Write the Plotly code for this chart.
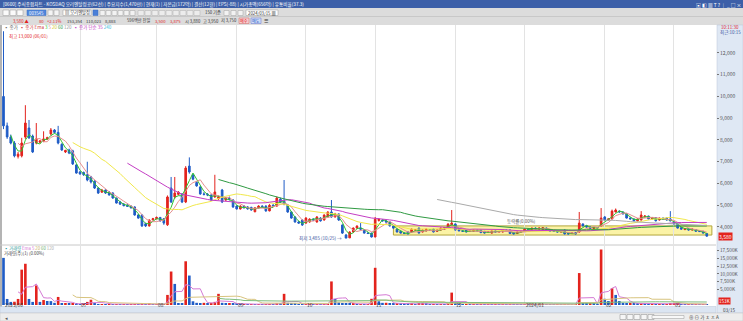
import plotly.graph_objects as go
import pandas as pd

W, H = 743, 321

# ---------------- data ----------------
month_labels = ["2023/06", "07", "08", "09", "10", "11", "12", "2024/01", "02", "03"]
month_start_idx = [0, 21, 42, 64, 83, 102, 124, 143, 165, 184]

opens = [
    10000, 8650, 8140, 7860, 7250, 7270, 8140, 8550, 8180, 7860,
    7900, 7950, 8050, 8280, 8460, 8350, 7800, 7450, 7540, 7500,
    6850, 6530, 6500, 6400, 6300, 6100, 5790, 5600, 5700, 5600,
    5560, 5330, 5150, 5050, 5000, 4950, 4920, 4550, 4550, 4150,
    4050, 4330, 4380, 4440, 4380, 4100, 5790, 5380, 5500, 5520,
    5150, 6800, 6400, 6050, 5840, 5520, 5500, 5470, 5380, 5300,
    5700, 5240, 5330, 5240, 4960, 4830, 4960, 4920, 4900, 4700,
    4880, 4960, 4960, 4740, 5000, 4960, 5280, 5200, 5000, 4690,
    4460, 4230, 4320, 4180, 4230, 4360, 4230, 4410, 4320, 4460,
    4690, 4460, 4600, 4090, 3630, 3500, 3770, 3950, 3950, 3860,
    3720, 3720, 3540, 4300, 4320, 4280, 4230, 4050, 3900, 3800,
    3720, 3770, 3770, 3860, 3950, 3770, 3820, 3860, 3900, 3800,
    3860, 3900, 4000, 4100, 4140, 3900, 3820, 3860, 3800, 3800,
    3860, 3860, 3800, 3770, 3720, 3820, 3770, 3770, 3860, 3860,
    3740, 3700, 3770, 3800, 3900, 3860, 3950, 3900, 3880, 3950,
    3880, 3820, 3820, 3770, 3860, 3720, 3700, 3740, 3770, 4140,
    4050, 4000, 3920, 3970, 4050, 4460, 4320, 4370, 4690, 4730,
    4690, 4600, 4410, 4370, 4280, 4320, 4460, 4500, 4370, 4430,
    4320, 4410, 4410, 4370, 4230, 4140, 3970, 3880, 3920, 3860,
    3880, 3800, 3800, 3700,
]
highs = [
    13000, 8800, 8250, 7950, 7450, 8100, 9600, 8920, 8250, 8780,
    8000, 8400, 8150, 8550, 8500, 8650, 7850, 7550, 7600, 7550,
    6900, 6580, 6550, 7000, 6350, 6150, 5820, 5750, 5730, 5650,
    5600, 5350, 5200, 5100, 5050, 5000, 4950, 4600, 4580, 4200,
    4350, 4420, 4480, 4460, 4400, 5450, 6300, 6300, 5650, 5550,
    6800, 7200, 6450, 6100, 5880, 5600, 5560, 5500, 6400, 5450,
    5750, 5380, 5400, 5280, 5000, 5000, 5000, 4960, 4930, 4900,
    5000, 5000, 5000, 5050, 5050, 5400, 5350, 6160, 5050, 4720,
    4500, 4280, 4350, 4450, 4400, 4400, 4500, 4450, 4580, 4720,
    5240, 4650, 4620, 4120, 3680, 3800, 3980, 4080, 4180, 3880,
    3760, 3740, 4460, 4400, 4350, 4300, 4250, 4080, 3920, 3820,
    3750, 3790, 3920, 3900, 3970, 3880, 3920, 3900, 3920, 3880,
    3970, 3990, 4160, 4780, 4160, 3920, 3850, 3880, 3830, 3880,
    3880, 3880, 3820, 3800, 3840, 3840, 3810, 3880, 3880, 3880,
    3760, 3790, 3820, 3920, 3930, 3970, 3980, 3970, 3990, 3970,
    3900, 3840, 3840, 3810, 3880, 3740, 3740, 3760, 4690, 4160,
    4080, 4020, 3990, 4000, 4870, 4500, 4400, 4800, 4850, 4760,
    4700, 4620, 4450, 4390, 4400, 4730, 4550, 4520, 4450, 4450,
    4430, 4430, 4430, 4730, 4250, 4160, 3990, 3950, 3940, 3920,
    3900, 3830, 3820, 3720,
]
lows = [
    8500, 8050, 7800, 7200, 7150, 7200, 8050, 8050, 7400, 7800,
    7850, 7900, 8000, 8200, 8300, 7800, 7500, 7400, 7350, 6850,
    6450, 6400, 6350, 6100, 6000, 5750, 5520, 5580, 5520, 5450,
    5300, 5080, 5020, 4950, 4920, 4850, 4520, 4380, 4000, 4000,
    4020, 4300, 4350, 4250, 4100, 4050, 5100, 5300, 5450, 5100,
    5100, 6450, 6150, 5850, 5480, 5450, 5420, 5200, 5350, 5250,
    5100, 5200, 5220, 4880, 4800, 4800, 4850, 4800, 4750, 4680,
    4850, 4880, 4700, 4720, 4920, 4940, 5100, 5000, 4650, 4380,
    4200, 4150, 4050, 4150, 4200, 4300, 4200, 4250, 4300, 4440,
    4430, 4440, 4280, 3680, 3485, 3490, 3750, 3920, 3880, 3700,
    3680, 3520, 3530, 4250, 4250, 4200, 4020, 3920, 3750, 3700,
    3680, 3660, 3750, 3840, 3700, 3750, 3800, 3830, 3750, 3780,
    3840, 3880, 3980, 4080, 3840, 3800, 3780, 3750, 3770, 3780,
    3800, 3720, 3700, 3740, 3700, 3750, 3750, 3750, 3800, 3680,
    3660, 3680, 3750, 3780, 3860, 3840, 3880, 3880, 3860, 3860,
    3780, 3780, 3750, 3750, 3660, 3660, 3680, 3660, 3750, 4030,
    3980, 3900, 3900, 3930, 4030, 4300, 4300, 4350, 4670, 4670,
    4580, 4390, 4350, 4260, 4260, 4300, 4440, 4350, 4350, 4260,
    4300, 4350, 4300, 4260, 4120, 3930, 3880, 3860, 3840, 3840,
    3780, 3770, 3700, 3560,
]
closes = [
    8650, 8140, 7860, 7270, 7350, 7860, 8780, 8100, 7450, 8050,
    7950, 8050, 8100, 8460, 8350, 7860, 7540, 7520, 7400, 6900,
    6480, 6440, 6400, 6160, 6070, 5790, 5560, 5700, 5560, 5470,
    5330, 5100, 5050, 4980, 4950, 4880, 4550, 4410, 4050, 4050,
    4320, 4380, 4440, 4280, 4180, 5380, 5150, 5560, 5600, 5150,
    6710, 6530, 6200, 5890, 5520, 5500, 5470, 5240, 5610, 5380,
    5150, 5330, 5280, 4920, 4830, 4960, 4880, 4830, 4780, 4880,
    4960, 4900, 4740, 5000, 4960, 5330, 5150, 5050, 4690, 4410,
    4230, 4180, 4090, 4410, 4360, 4320, 4460, 4280, 4550, 4690,
    4460, 4600, 4320, 3720, 3490, 3770, 3950, 4040, 3900, 3720,
    3700, 3540, 4360, 4360, 4280, 4230, 4050, 3950, 3770, 3720,
    3700, 3680, 3900, 3880, 3720, 3860, 3900, 3860, 3770, 3860,
    3950, 3970, 4140, 4180, 3860, 3820, 3800, 3770, 3800, 3860,
    3820, 3740, 3720, 3770, 3820, 3770, 3790, 3860, 3820, 3700,
    3680, 3770, 3800, 3900, 3880, 3950, 3900, 3950, 3970, 3880,
    3800, 3800, 3770, 3790, 3680, 3680, 3720, 3680, 4180, 4050,
    4000, 3920, 3970, 3950, 4410, 4320, 4370, 4730, 4780, 4690,
    4600, 4410, 4370, 4280, 4370, 4550, 4500, 4370, 4430, 4280,
    4410, 4370, 4320, 4280, 4140, 3950, 3900, 3930, 3860, 3900,
    3800, 3790, 3720, 3580,
]
volumes_k = [
    15200, 1950, 1000, 1050, 1950, 11400, 13300, 1950, 1000, 6300,
    1000, 1600, 1300, 1250, 700, 2600, 400, 420, 380, 400,
    350, 300, 350, 1000, 1700, 600, 300, 320, 280, 300,
    290, 310, 250, 260, 240, 250, 300, 250, 400, 300,
    400, 250, 260, 240, 300, 3250, 10800, 6800, 600, 550,
    14100, 9500, 1200, 700, 600, 700, 600, 700, 1000, 3600,
    700, 400, 420, 400, 350, 300, 320, 250, 260, 250,
    270, 250, 260, 300, 280, 600, 400, 3600, 700, 500,
    400, 300, 280, 300, 310, 250, 260, 250, 300, 320,
    7600, 1950, 800, 600, 500, 400, 420, 300, 320, 300,
    310, 2000, 12000, 1200, 700, 720, 500, 450, 460, 400,
    400, 350, 360, 300, 350, 700, 350, 300, 310, 300,
    310, 300, 500, 4000, 500, 350, 300, 310, 250, 260,
    250, 300, 250, 260, 250, 260, 200, 250, 200, 300,
    300, 250, 200, 300, 250, 300, 250, 260, 300, 250,
    250, 200, 210, 200, 300, 250, 200, 250, 10300, 500,
    400, 410, 350, 300, 17900, 2000, 1300, 5400, 3250, 1300,
    700, 500, 700, 400, 350, 600, 350, 300, 310, 300,
    310, 250, 260, 350, 400, 500, 300, 250, 260, 250,
    300, 250, 300, 153,
]
price_ticks = [4000, 5000, 6000, 7000, 8000, 9000, 10000, 11000, 12000]
volume_ticks = [5000, 7500, 10000, 12500, 15000, 17500]
price_ma_periods = [3, 5, 20, 35, 60, 120]
volume_ma_periods = [5, 20, 60]
# drawn range box (start idx, end idx, low, high)
box_start, box_end, box_low, box_high = 107, 194.4, 3630, 4050
low_idx, low_price, low_date = 94, 3485, "10/25"
high_idx, high_price, high_date = 0, 13000, "06/01"

# ---------------- styling ----------------
RED = "#e3231d"
BLUE = "#1f5cc6"
FONT = "Noto Sans CJK KR"
price_ma_colors = ["#2fc42f", "#e68f8f", "#f1e84a", "#c43ec4", "#2f9a42", "#aaaaaa"]
volume_ma_colors = ["#d57ad5", "#d8c47e", "#7cbc7c"]

n = len(closes)
idx = list(range(n))


def px(x):
    return x / W


def py(y):
    return 1 - y / H


XL, XR = 2, 716
XRANGE = [-0.41, 195.53]

fig = go.Figure()

# moving averages (price)
cs = pd.Series(closes, dtype=float)
for p, c in zip(price_ma_periods, price_ma_colors):
    ma = cs.rolling(p).mean()
    fig.add_trace(go.Scatter(x=idx, y=ma, mode="lines", line=dict(color=c, width=1),
                             xaxis="x", yaxis="y", hoverinfo="skip", showlegend=False))

fig.add_trace(go.Candlestick(
    x=idx, open=opens, high=highs, low=lows, close=closes,
    increasing=dict(line=dict(color=RED, width=1), fillcolor=RED),
    decreasing=dict(line=dict(color=BLUE, width=1), fillcolor=BLUE),
    whiskerwidth=0, xaxis="x", yaxis="y", hoverinfo="skip", showlegend=False))

# volume
vol_colors = [BLUE if i == 0 or volumes_k[i] <= volumes_k[i - 1] else RED for i in idx]
fig.add_trace(go.Bar(x=idx, y=volumes_k, marker=dict(color=vol_colors, line=dict(width=0)),
                     width=0.72, xaxis="x2", yaxis="y2", hoverinfo="skip", showlegend=False))
vs = pd.Series(volumes_k, dtype=float)
for p, c in zip(volume_ma_periods, volume_ma_colors):
    ma = vs.rolling(p).mean()
    fig.add_trace(go.Scatter(x=idx, y=ma, mode="lines", line=dict(color=c, width=1),
                             xaxis="x2", yaxis="y2", hoverinfo="skip", showlegend=False))

shapes = []
ann = []


def rect(x0, y0, x1, y1, fill, line=None, lw=0, layer="below"):
    shapes.append(dict(type="rect", xref="paper", yref="paper", x0=px(x0), x1=px(x1),
                       y0=py(y1), y1=py(y0), fillcolor=fill,
                       line=dict(color=line or fill, width=lw), layer=layer))


def hline(x0, x1, y, color, w=1, layer="below"):
    shapes.append(dict(type="line", xref="paper", yref="paper", x0=px(x0), x1=px(x1),
                       y0=py(y), y1=py(y), line=dict(color=color, width=w), layer=layer))


def text(x, y, s, size=5.5, color="#333", anchor="left", bg=None, yanchor="middle"):
    d = dict(x=px(x), y=py(y), xref="paper", yref="paper", text=s, showarrow=False,
             xanchor=anchor, yanchor=yanchor, font=dict(size=size, color=color, family=FONT),
             borderpad=0)
    if bg:
        d["bgcolor"] = bg
    ann.append(d)


# ---- window chrome ----
rect(0, 0, 743, 8, "#3c5fa8")
rect(0, 8, 743, 25, "#dcdcdc")
hline(0, 743, 16.5, "#c8c8c8")
text(2, 4, "[0600] 주식종합차트 - KOSDAQ 오리엔탈정공(62선) | 주요지수(1,470만) | 현재(1) | 자본금(172억) | 결산(12월) | EPS(-88) | 시가총액(656억) | 유통비율(37.3)",
     size=4.6, color="white")
text(742, 4, "▣ ◧ ▦ T ? │ _ □ ×", size=4.8, color="white", anchor="right")

# toolbar row
for x0 in (3, 10, 17):
    rect(x0, 10, x0 + 6, 15.5, "#fafafa", "#9a9a9a", 0.5)
rect(27, 10, 46, 15.5, "#4f86dc", "#3a6cc0", 0.5)
text(36.5, 12.8, "003545", size=4.3, color="white", anchor="center")
for x0 in (48, 54):
    rect(x0, 10, x0 + 5, 15.5, "#f4f4f4", "#9a9a9a", 0.5)
rect(63, 10, 91, 15.5, "#ffffff", "#9a9a9a", 0.5)
text(64, 12.8, "▤ 오리엔탈정", size=4.3, color="#333")
rect(93, 10, 98, 15.5, "#4a7fd8", "#3a6cc0", 0.5)
for x0 in range(100, 136, 6):
    rect(x0, 10.5, x0 + 5, 15.5, "#f2f2f2", "#a0a0a0", 0.5)
for x0 in range(138, 200, 7):
    rect(x0, 10.5, x0 + 6, 15.5, "#ececec", "#b0b0b0", 0.5)
text(204, 12.8, "150 기준", size=4.3, color="#333")
for x0 in (224, 231, 238):
    rect(x0, 10.5, x0 + 5, 15.5, "#f2f2f2", "#a0a0a0", 0.5)
rect(246, 10, 278, 15.5, "#ffffff", "#9a9a9a", 0.5)
text(247, 12.8, "2024/03/15 ▦", size=4.3, color="#333")

# info row
IY = 20.6
IS = 4.2
text(12, IY, "3,580 ▲", size=IS, color=RED)
text(38, IY, "80", size=IS, color=RED)
text(46, IY, "+2.11%", size=IS, color=RED)
text(66, IY, "153,354", size=IS, color="#333")
text(85, IY, "110,023", size=IS, color="#333")
text(104, IY, "8,888", size=IS, color="#333")
text(126, IY, "596백만 전일", size=IS, color="#333")
text(154, IY, "3,500", size=IS, color=RED)
text(169, IY, "3,875", size=IS, color=RED)
text(184, IY, "시 3,880", size=IS, color="#333")
text(202, IY, "고 3,950", size=IS, color="#333")
text(220, IY, "저 3,750", size=IS, color="#333")
rect(239, 18, 249, 23.5, "#f6d0d0", "#d06060", 0.5)
text(244, IY, "매수", size=4.1, color=RED, anchor="center")
rect(251, 18, 261, 23.5, "#d0dcf6", "#6070d0", 0.5)
text(256, IY, "매도", size=4.1, color=BLUE, anchor="center")
text(263, IY, "☰", size=4.6, color="#333")

# chart frame pieces
rect(717, 25, 743, 313, "#dfe8f4", "#b9c6d8", 0.5)
rect(0, 25, 2, 321, "#b4b4b4")
hline(0, 716, 245, "#c8c8c8")
rect(0, 306.5, 716, 313, "#dbe5f2", "#b9c6d8", 0.5)
rect(0, 313, 743, 321, "#ededed", "#c0c0c0", 0.5)
text(4, 317, "◂", size=5, color="#555")
for x0 in range(620, 650, 7):
    rect(x0, 314.5, x0 + 6, 319.5, "#f6f6f6", "#888", 0.5)
rect(652, 315.5, 684, 318.5, "#f8f8f8", "#999", 0.5)
text(688, 317, "⊕ ⊖ 가 ㅊ ㅈ A", size=4.6, color="#444")
text(729, 309.5, "03/15", size=4.6, color="#444", anchor="center")

# range box drawing
shapes.append(dict(type="rect", xref="x", yref="y", x0=box_start, x1=box_end, y0=box_low, y1=box_high,
                   fillcolor="#fbf3a6", line=dict(color="#b3a63a", width=1), layer="below"))

# month labels in the date strip
for i, lab in zip(month_start_idx, month_labels):
    ann.append(dict(x=i, xref="x2", y=py(309.8), yref="paper", text=lab, showarrow=False,
                    xanchor="left", xshift=-1 if i else 0, font=dict(size=4.8, color="#333", family=FONT)))

# legends
leg = ("<span style='color:#666'>▪ 종가</span>  <span style='color:#d04040'>▪ 종가 Ema</span> "
       "<span style='color:#2fc42f'>3</span> <span style='color:#e68f8f'>5</span> "
       "<span style='color:#d6c92a'>20</span> <span style='color:#2f9a42'>60</span> "
       "<span style='color:#999'>120</span>  <span style='color:#c43ec4'>▪ 종가 단순 35</span> "
       "<span style='color:#3cbcdc'>240</span>")
text(3, 27, leg, size=4.5)
vleg = ("<span style='color:#2a9a9a'>▪ 거래량</span> <span style='color:#d57ad5'>Ema 5</span> "
        "<span style='color:#c8b060'>20</span> <span style='color:#6cae6c'>60</span> "
        "<span style='color:#aaa'>120</span>")
text(3, 248, vleg, size=4.3)
text(3, 253.5, "거래량(주)(1) (0.00%)", size=4.3, color="#444")

# max / min markers
ann.append(dict(x=high_idx, y=high_price, xref="x", yref="y", xanchor="left", yanchor="top",
                xshift=4, yshift=0,
                text=f"최고 {high_price:,} ({high_date})", showarrow=False,
                font=dict(size=4.5, color=RED, family=FONT)))
ann.append(dict(x=low_idx, y=low_price, xref="x", yref="y", xanchor="right", xshift=-2,
                text=f"최저 {low_price:,} ({low_date}) →", showarrow=False,
                font=dict(size=4.6, color="#3a55a0", family=FONT)))
ann.append(dict(x=137.6, y=4230, xref="x", yref="y", xanchor="left",
                text="등락률(0.00%)", showarrow=False, font=dict(size=4.5, color="#555", family=FONT)))

# right axis extras
text(730, 27.5, "10:11:30", size=4.5, color=RED, anchor="center")
text(730, 32.5, "최근:10:15", size=4.5, color="#3a55a0", anchor="center")
ann.append(dict(x=px(718), xref="paper", y=closes[-1], yref="y", xanchor="left",
                text=f"{closes[-1]:,}", showarrow=False, bgcolor=RED, borderpad=0,
                font=dict(size=5, color="white", family=FONT)))
ann.append(dict(x=px(718), xref="paper", y=volumes_k[-1], yref="y2", xanchor="left", yanchor="bottom",
                text=f"{volumes_k[-1]:,}K", showarrow=False, bgcolor=RED, borderpad=0,
                font=dict(size=4.6, color="white", family=FONT)))

axis_common = dict(range=XRANGE, domain=[px(XL), px(XR)], tickvals=month_start_idx[1:],
                   showticklabels=False, showgrid=True, gridcolor="#e3e3e3", gridwidth=1,
                   zeroline=False, showline=False, ticks="", fixedrange=True)

fig.update_layout(
    width=W, height=H, margin=dict(l=0, r=0, t=0, b=0),
    paper_bgcolor="white", plot_bgcolor="white", showlegend=False,
    boxgap=0.35, hovermode=False,
    font=dict(family=FONT, size=6, color="#444"),
    xaxis=dict(anchor="y", rangeslider=dict(visible=False), **axis_common),
    xaxis2=dict(anchor="y2", **axis_common),
    yaxis=dict(domain=[py(245), py(25)], range=[3172, 13287], side="right", anchor="x",
               tickvals=price_ticks, ticktext=[f"{v:,}" for v in price_ticks],
               ticks="outside", ticklen=2, tickcolor="#777",
               tickfont=dict(size=5, color="#555", family=FONT),
               showgrid=False, zeroline=False, showline=False, fixedrange=True),
    yaxis2=dict(domain=[py(305), py(245)], range=[0, 19350], side="right", anchor="x2",
                tickvals=volume_ticks, ticktext=[f"{v:,}K" for v in volume_ticks],
                ticks="outside", ticklen=2, tickcolor="#777",
                tickfont=dict(size=4.8, color="#555", family=FONT),
                showgrid=False, zeroline=False, showline=False, fixedrange=True),
    shapes=shapes, annotations=ann,
)

fig.write_html("out.html")
